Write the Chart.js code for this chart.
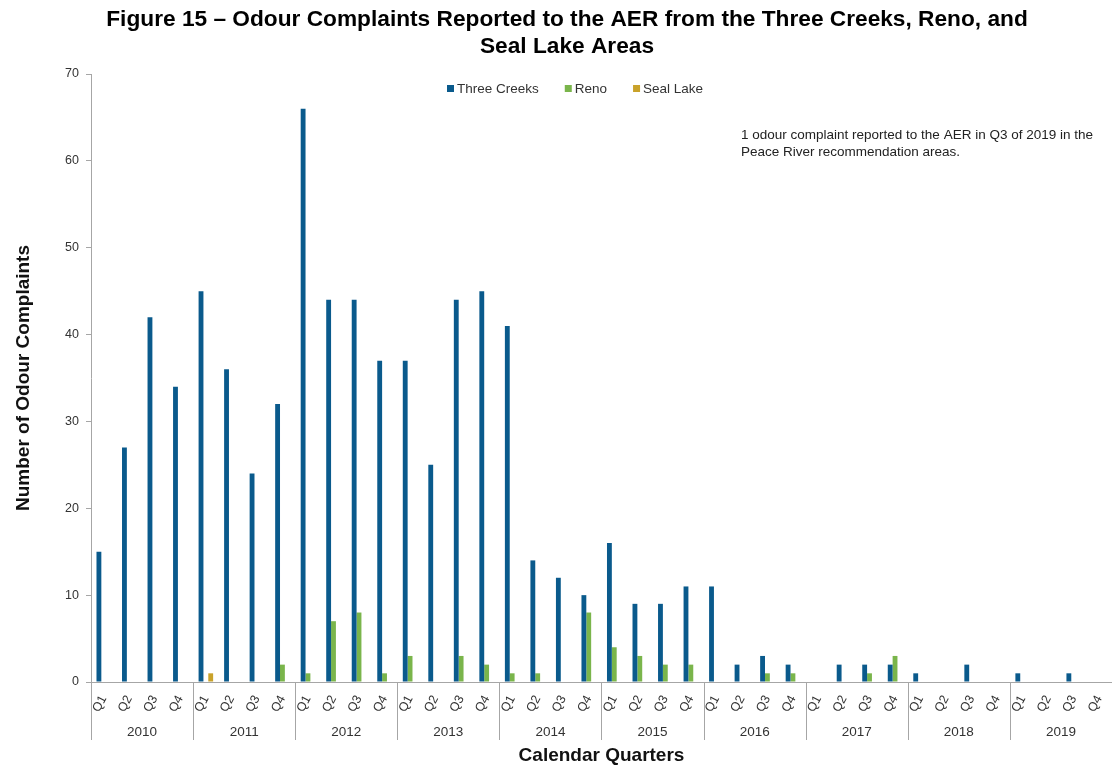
<!DOCTYPE html>
<html>
<head>
<meta charset="utf-8">
<title>Figure 15 - Odour Complaints</title>
<script src="https://cdn.jsdelivr.net/npm/chart.js@4/dist/chart.umd.min.js"></script>
<style>
  body { margin: 0; background: #fff; }
  #wrap { width: 1112px; height: 765px; }
</style>
</head>
<body>
<div id="wrap"><canvas id="odourChart" width="1112" height="765"></canvas></div>
<script>
// data
const years = ['2010', '2011', '2012', '2013', '2014', '2015', '2016', '2017', '2018', '2019'];
const quarters = ['Q1', 'Q2', 'Q3', 'Q4'];
const threeCreeks = [
  15, 27, 42, 34,
  45, 36, 24, 32,
  66, 44, 44, 37,
  37, 25, 44, 45,
  41, 14, 12, 10,
  16, 9, 9, 11,
  11, 2, 3, 2,
  0, 2, 2, 2,
  1, 0, 2, 0,
  1, 0, 1, 0
];
const reno = [
  0, 0, 0, 0,
  0, 0, 0, 2,
  1, 7, 8, 1,
  3, 0, 3, 2,
  1, 1, 0, 8,
  4, 3, 2, 2,
  0, 0, 1, 1,
  0, 0, 1, 3,
  0, 0, 0, 0,
  0, 0, 0, 0
];
const sealLake = [
  0, 0, 0, 0,
  1, 0, 0, 0,
  0, 0, 0, 0,
  0, 0, 0, 0,
  0, 0, 0, 0,
  0, 0, 0, 0,
  0, 0, 0, 0,
  0, 0, 0, 0,
  0, 0, 0, 0,
  0, 0, 0, 0
];
const yTicks = [0, 10, 20, 30, 40, 50, 60, 70];
const titleLines = [
  'Figure 15 – Odour Complaints Reported to the AER from the Three Creeks, Reno, and',
  'Seal Lake Areas'
];
const noteLines = [
  '1 odour complaint reported to the AER in Q3 of 2019 in the',
  'Peace River recommendation areas.'
];

const labels = [];
years.forEach(() => quarters.forEach(q => labels.push(q)));

const FONT = "'Liberation Sans', Arial, sans-serif";
const AXIS_GREY = '#a6a6a6';
const TEXT = '#333333';

// year row + separators under the quarter labels
const yearRows = {
  id: 'yearRows',
  afterDraw(chart) {
    const ctx = chart.ctx;
    const x = chart.scales.x;
    const half = (x.getPixelForValue(1) - x.getPixelForValue(0)) / 2;
    const top = x.top;
    ctx.save();
    ctx.strokeStyle = AXIS_GREY;
    ctx.lineWidth = 1;
    ctx.fillStyle = TEXT;
    ctx.font = '13.5px ' + FONT;
    ctx.textAlign = 'center';
    ctx.textBaseline = 'middle';
    years.forEach((yr, i) => {
      const start = x.getPixelForValue(i * 4) - half;
      const end = x.getPixelForValue(i * 4 + 3) + half;
      ctx.beginPath();
      ctx.moveTo(Math.round(start) + 0.5, top);
      ctx.lineTo(Math.round(start) + 0.5, top + 58);
      ctx.stroke();
      ctx.fillText(yr, (start + end) / 2, top + 50);
    });
    ctx.restore();
  }
};

// title, legend inside the plot, note text
const extras = {
  id: 'extras',
  afterDraw(chart) {
    const ctx = chart.ctx;
    ctx.save();
    ctx.fillStyle = '#000';
    ctx.font = 'bold 22.7px ' + FONT;
    ctx.textAlign = 'center';
    ctx.textBaseline = 'alphabetic';
    titleLines.forEach((t, i) => ctx.fillText(t, 567, 26 + i * 27));

    ctx.font = '13.5px ' + FONT;
    ctx.textBaseline = 'middle';
    ctx.textAlign = 'left';
    let lx = 447;
    const ly = 89;
    chart.data.datasets.forEach(ds => {
      ctx.fillStyle = ds.backgroundColor;
      ctx.fillRect(lx, ly - 4, 7, 7);
      ctx.fillStyle = TEXT;
      ctx.fillText(ds.label, lx + 10, ly);
      lx += 10 + ctx.measureText(ds.label).width + 26;
    });
    ctx.fillStyle = '#222';
    noteLines.forEach((t, i) => ctx.fillText(t, 741, 135 + i * 17));
    ctx.restore();
  }
};

new Chart(document.getElementById('odourChart'), {
  type: 'bar',
  data: {
    labels: labels,
    datasets: [
      { label: 'Three Creeks', data: threeCreeks, backgroundColor: '#0a5a8c' },
      { label: 'Reno', data: reno, backgroundColor: '#7ab54b' },
      { label: 'Seal Lake', data: sealLake, backgroundColor: '#c9a22a' }
    ]
  },
  options: {
    responsive: false,
    animation: false,
    datasets: { bar: { categoryPercentage: 0.57, barPercentage: 1.0 } },
    layout: { padding: { left: 0, right: -3, top: 74, bottom: 0 } },
    plugins: {
      legend: { display: false },
      tooltip: { enabled: false },
      title: { display: false }
    },
    scales: {
      x: {
        grid: { display: false },
        border: { display: true, color: AXIS_GREY },
        ticks: {
          color: TEXT,
          font: { family: FONT, size: 12.5 },
          minRotation: 62,
          maxRotation: 62,
          autoSkip: false,
          padding: 3
        },
        title: {
          display: true,
          text: 'Calendar Quarters',
          color: '#111',
          font: { family: FONT, size: 19, weight: 'bold', lineHeight: 1.0 },
          padding: { top: 0, bottom: 0 }
        },
        afterFit(scale) {
          scale.height = 83;
          scale.paddingLeft = 0;
          scale.paddingRight = 0;
        }
      },
      y: {
        min: 0,
        max: 70,
        afterBuildTicks(scale) { scale.ticks = yTicks.map(v => ({ value: v })); },
        grid: { drawOnChartArea: false, drawTicks: true, tickLength: 5, color: AXIS_GREY },
        border: { display: true, color: AXIS_GREY },
        ticks: { color: TEXT, font: { family: FONT, size: 12.5 }, padding: 7 },
        title: {
          display: true,
          text: 'Number of Odour Complaints',
          color: '#111',
          font: { family: FONT, size: 19, weight: 'bold', lineHeight: 1.2 },
          padding: { top: 12.6, bottom: 0 }
        },
        afterFit(scale) { scale.width = 91; }
      }
    }
  },
  plugins: [yearRows, extras]
});
</script>
</body>
</html>
